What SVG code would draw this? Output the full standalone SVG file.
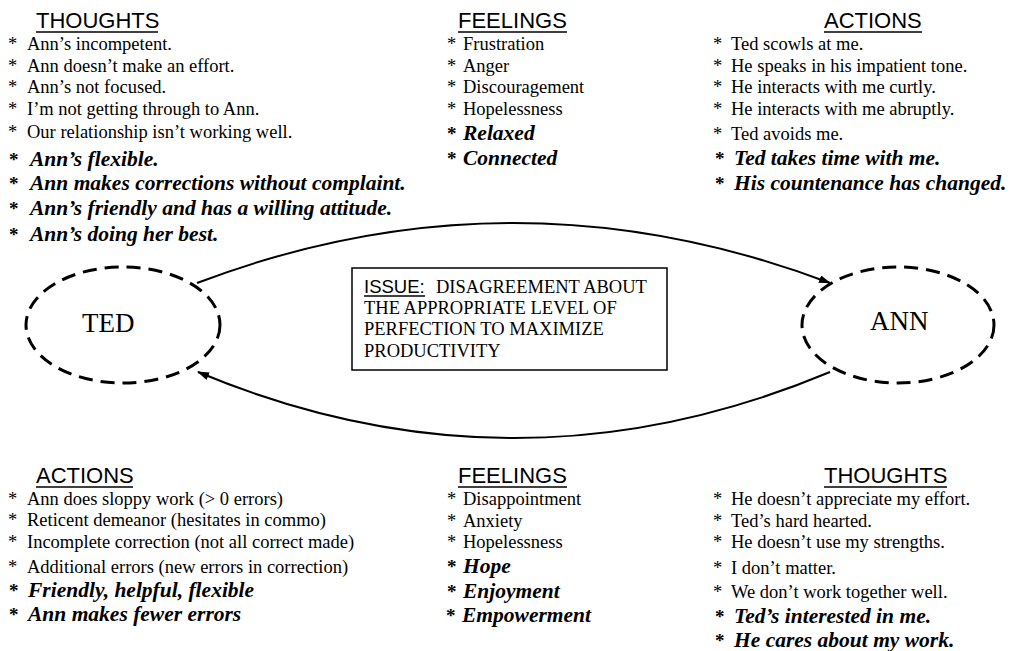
<svg xmlns="http://www.w3.org/2000/svg" width="1012" height="651" viewBox="0 0 1012 651">
<style>
.hd{font-family:"Liberation Sans",Arial,sans-serif;font-size:22px;fill:#000}
.is{font-family:"Liberation Sans",Arial,sans-serif;font-size:18.5px;fill:#000}
.t{font-family:"Liberation Serif","Times New Roman",serif;font-size:18.5px;fill:#000}
.b{font-family:"Liberation Serif","Times New Roman",serif;font-size:21.5px;font-weight:bold;font-style:italic;fill:#000}
.bs{font-family:"Liberation Serif","Times New Roman",serif;font-size:19px;font-weight:bold;fill:#000}
.nl{font-family:"Liberation Serif","Times New Roman",serif;font-size:27px;fill:#000}
.ul{stroke:#000;stroke-width:1.6}
.node{fill:none;stroke:#000;stroke-width:3;stroke-dasharray:14 8}
.box{fill:#fff;stroke:#000;stroke-width:1.5}
.conn{fill:none;stroke:#000;stroke-width:2}
</style>
<defs>
<marker id="ah" markerWidth="12" markerHeight="8" refX="11" refY="4" orient="auto" markerUnits="userSpaceOnUse"><path d="M0,0 L12,4 L0,8 z" fill="#000"/></marker>
</defs>
<g id="connectors">
<path class="conn" d="M197,283 Q513,163 830,283" marker-end="url(#ah)"/>
<path class="conn" d="M830,372 Q514,504 198,372" marker-end="url(#ah)"/>
</g>
<g id="ted">
<ellipse class="node" cx="123" cy="325" rx="97" ry="58"/>
<text class="nl" x="82" y="332">TED</text>
</g>
<g id="ann">
<ellipse class="node" cx="898" cy="325" rx="96" ry="58"/>
<text class="nl" x="870" y="330">ANN</text>
</g>
<g id="issue">
<rect class="box" x="352" y="268" width="315" height="102"/>
<text class="is" x="364" y="293">ISSUE:</text>
<line class="ul" x1="364" y1="296" x2="425" y2="296"/>
<text class="t" x="436" y="293">DISAGREEMENT ABOUT</text>
<text class="t" x="364" y="314">THE APPROPRIATE LEVEL OF</text>
<text class="t" x="364" y="335">PERFECTION TO MAXIMIZE</text>
<text class="t" x="364" y="357">PRODUCTIVITY</text>
</g>
<g id="top-thoughts">
<text class="hd" x="36" y="28">THOUGHTS</text>
<line class="ul" x1="36" y1="32" x2="158" y2="32"/>
<text class="t" x="8" y="50">*</text><text class="t" x="27" y="50">Ann’s incompetent.</text>
<text class="t" x="8" y="72">*</text><text class="t" x="27" y="72">Ann doesn’t make an effort.</text>
<text class="t" x="8" y="93">*</text><text class="t" x="27" y="93">Ann’s not focused.</text>
<text class="t" x="8" y="115">*</text><text class="t" x="27" y="115">I’m not getting through to Ann.</text>
<text class="t" x="8" y="138">*</text><text class="t" x="27" y="138">Our relationship isn’t working well.</text>
<text class="bs" x="9" y="166">*</text><text class="b" x="30" y="166">Ann’s flexible.</text>
<text class="bs" x="9" y="190">*</text><text class="b" x="30" y="190">Ann makes corrections without complaint.</text>
<text class="bs" x="9" y="215">*</text><text class="b" x="30" y="215">Ann’s friendly and has a willing attitude.</text>
<text class="bs" x="9" y="241">*</text><text class="b" x="30" y="241">Ann’s doing her best.</text>
</g>
<g id="top-feelings">
<text class="hd" x="458" y="28">FEELINGS</text>
<line class="ul" x1="458" y1="32" x2="567" y2="32"/>
<text class="t" x="447" y="50">*</text><text class="t" x="463" y="50">Frustration</text>
<text class="t" x="447" y="72">*</text><text class="t" x="463" y="72">Anger</text>
<text class="t" x="447" y="93">*</text><text class="t" x="463" y="93">Discouragement</text>
<text class="t" x="447" y="115">*</text><text class="t" x="463" y="115">Hopelessness</text>
<text class="bs" x="447" y="140">*</text><text class="b" x="463" y="140">Relaxed</text>
<text class="bs" x="447" y="165">*</text><text class="b" x="463" y="165">Connected</text>
</g>
<g id="top-actions">
<text class="hd" x="824" y="28">ACTIONS</text>
<line class="ul" x1="824" y1="32" x2="922" y2="32"/>
<text class="t" x="713" y="50">*</text><text class="t" x="731" y="50">Ted scowls at me.</text>
<text class="t" x="713" y="72">*</text><text class="t" x="731" y="72">He speaks in his impatient tone.</text>
<text class="t" x="713" y="93">*</text><text class="t" x="731" y="93">He interacts with me curtly.</text>
<text class="t" x="713" y="115">*</text><text class="t" x="731" y="115">He interacts with me abruptly.</text>
<text class="t" x="713" y="140">*</text><text class="t" x="731" y="140">Ted avoids me.</text>
<text class="bs" x="715" y="165">*</text><text class="b" x="734" y="165">Ted takes time with me.</text>
<text class="bs" x="715" y="190">*</text><text class="b" x="734" y="190">His countenance has changed.</text>
</g>
<g id="bottom-actions">
<text class="hd" x="36" y="483">ACTIONS</text>
<line class="ul" x1="36" y1="487" x2="133" y2="487"/>
<text class="t" x="8" y="505">*</text><text class="t" x="27" y="505">Ann does sloppy work (&gt; 0 errors)</text>
<text class="t" x="8" y="526">*</text><text class="t" x="27" y="526">Reticent demeanor (hesitates in commo)</text>
<text class="t" x="8" y="548">*</text><text class="t" x="27" y="548">Incomplete correction (not all correct made)</text>
<text class="t" x="8" y="573">*</text><text class="t" x="27" y="573">Additional errors (new errors in correction)</text>
<text class="bs" x="9" y="597">*</text><text class="b" x="28" y="597">Friendly, helpful, flexible</text>
<text class="bs" x="9" y="621">*</text><text class="b" x="28" y="621">Ann makes fewer errors</text>
</g>
<g id="bottom-feelings">
<text class="hd" x="458" y="483">FEELINGS</text>
<line class="ul" x1="458" y1="487" x2="567" y2="487"/>
<text class="t" x="447" y="505">*</text><text class="t" x="463" y="505">Disappointment</text>
<text class="t" x="447" y="527">*</text><text class="t" x="463" y="527">Anxiety</text>
<text class="t" x="447" y="548">*</text><text class="t" x="463" y="548">Hopelessness</text>
<text class="bs" x="447" y="573">*</text><text class="b" x="463" y="573">Hope</text>
<text class="bs" x="447" y="598">*</text><text class="b" x="463" y="598">Enjoyment</text>
<text class="bs" x="446" y="622">*</text><text class="b" x="462" y="622">Empowerment</text>
</g>
<g id="bottom-thoughts">
<text class="hd" x="824" y="483">THOUGHTS</text>
<line class="ul" x1="824" y1="487" x2="947" y2="487"/>
<text class="t" x="713" y="505">*</text><text class="t" x="731" y="505">He doesn’t appreciate my effort.</text>
<text class="t" x="713" y="527">*</text><text class="t" x="731" y="527">Ted’s hard hearted.</text>
<text class="t" x="713" y="548">*</text><text class="t" x="731" y="548">He doesn’t use my strengths.</text>
<text class="t" x="713" y="574">*</text><text class="t" x="731" y="574">I don’t matter.</text>
<text class="t" x="713" y="598">*</text><text class="t" x="731" y="598">We don’t work together well.</text>
<text class="bs" x="715" y="623">*</text><text class="b" x="734" y="623">Ted’s interested in me.</text>
<text class="bs" x="715" y="647">*</text><text class="b" x="734" y="647">He cares about my work.</text>
</g>
</svg>
